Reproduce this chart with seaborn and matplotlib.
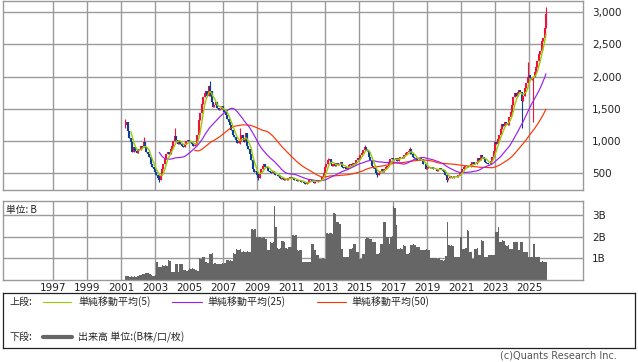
import numpy as np
import pandas as pd
import seaborn as sns
from matplotlib import pyplot as plt

# 月足の終値 (2001-04 .. 2026-01)
close_2001 = [1250, 1300, 1150, 1050, 980, 830, 900, 850, 820]
close_2002 = [880, 860, 930, 900, 990, 900, 830, 800, 750, 640, 600, 560]
close_2003 = [520, 480, 430, 400, 480, 560, 640, 720, 800, 830, 800, 870]
close_2004 = [930, 1000, 1080, 1010, 950, 1000, 960, 930, 900, 960, 1000, 1010]
close_2005 = [1000, 980, 950, 930, 940, 960, 1100, 1320, 1430, 1580, 1680, 1740]
close_2006 = [1780, 1700, 1850, 1780, 1600, 1530, 1560, 1600, 1520, 1480, 1500, 1540]
close_2007 = [1500, 1450, 1400, 1350, 1300, 1250, 1170, 1100, 1060, 1020, 970, 1000]
close_2008 = [1000, 1100, 1050, 980, 1120, 930, 880, 800, 700, 560, 520, 540]
close_2009 = [480, 430, 500, 560, 620, 650, 600, 580, 540, 520, 500, 540]
close_2010 = [500, 470, 480, 460, 430, 410, 420, 400, 410, 400, 420, 440]
close_2011 = [440, 430, 400, 390, 380, 390, 400, 370, 360, 350, 340, 350]
close_2012 = [360, 390, 400, 380, 350, 370, 360, 380, 390, 400, 440, 500]
close_2013 = [600, 650, 700, 720, 650, 620, 640, 610, 660, 630, 650, 670]
close_2014 = [600, 580, 590, 570, 600, 630, 640, 620, 660, 640, 700, 730]
close_2015 = [720, 790, 820, 860, 910, 880, 850, 760, 700, 620, 580, 560]
close_2016 = [510, 470, 510, 540, 560, 520, 570, 590, 620, 680, 720, 730]
close_2017 = [720, 700, 730, 690, 740, 760, 750, 730, 790, 820, 830, 840]
close_2018 = [870, 800, 760, 740, 720, 700, 710, 730, 720, 650, 640, 560]
close_2019 = [580, 590, 580, 600, 560, 570, 560, 530, 560, 580, 570, 540]
close_2020 = [520, 470, 400, 430, 450, 440, 430, 450, 460, 440, 480, 500]
close_2021 = [520, 560, 600, 620, 610, 600, 590, 640, 680, 650, 640, 670]
close_2022 = [740, 700, 780, 760, 720, 680, 660, 650, 640, 690, 760, 850]
close_2023 = [980, 960, 1030, 1100, 1180, 1260, 1240, 1300, 1280, 1250, 1380, 1450]
close_2024 = [1560, 1680, 1750, 1700, 1760, 1800, 1760, 1620, 1700, 1820, 1900, 2000]
close_2025 = [2020, 1980, 1950, 1990, 2080, 2150, 2250, 2350, 2400, 2550, 2600, 2750]
close_2026 = [2980]

# 目立つヒゲ (月: (安値, 高値))
wicks = {
    "2001-04": (1200, 1350), "2002-05": (900, 1060), "2003-04": (360, 480),
    "2004-03": (1000, 1210), "2006-04": (1700, 1940), "2008-01": (950, 1210),
    "2009-02": (390, 500), "2013-03": (640, 740), "2015-05": (850, 940),
    "2016-02": (440, 520), "2018-01": (800, 900), "2020-03": (360, 480),
    "2024-08": (1200, 1760), "2024-12": (1900, 2220), "2025-04": (1290, 2000),
    "2026-01": (2750, 3080),
}

# 出来高 (B)
vol_2001 = [0.18, 0.17, 0.18, 0.16, 0.17, 0.16, 0.17, 0.16, 0.18]
vol_2002 = [0.2, 0.22, 0.25, 0.27, 0.26, 0.3, 0.32, 0.3, 0.28, 0.22, 0.2, 0.2]
vol_2003 = [0.22, 0.83, 0.6, 0.58, 0.62, 0.67, 0.65, 0.7, 0.66, 0.9, 0.88, 0.36]
vol_2004 = [0.38, 0.35, 0.75, 0.72, 0.36, 0.75, 0.73, 0.76, 0.44, 0.46, 0.42, 0.45]
vol_2005 = [0.53, 0.5, 0.55, 0.52, 0.44, 0.46, 0.43, 1.0, 0.98, 1.06, 1.04, 0.83]
vol_2006 = [0.85, 0.8, 1.22, 1.2, 1.24, 0.75, 0.78, 0.74, 0.76, 0.72, 0.75, 0.77]
vol_2007 = [0.75, 0.78, 0.9, 0.92, 0.88, 0.9, 0.86, 1.23, 1.2, 1.42, 1.4, 1.38]
vol_2008 = [1.42, 1.3, 1.32, 1.28, 1.3, 1.34, 1.3, 1.27, 2.35, 2.3, 2.36, 2.0]
vol_2009 = [2.0, 1.97, 1.97, 1.95, 1.98, 1.97, 1.9, 1.37, 1.36, 1.74, 1.72, 1.75]
vol_2010 = [3.4, 2.46, 1.46, 1.44, 1.48, 1.79, 1.8, 1.77, 1.46, 1.45, 1.53, 1.52]
vol_2011 = [1.53, 2.07, 2.05, 2.07, 1.37, 1.35, 1.38, 1.36, 0.83, 0.82, 0.84, 0.83]
vol_2012 = [0.83, 0.85, 1.68, 1.66, 1.37, 1.36, 1.14, 1.15, 0.99, 0.98, 1.0, 0.99]
vol_2013 = [0.99, 2.15, 2.13, 2.15, 2.16, 2.12, 3.08, 3.05, 2.69, 2.65, 2.6, 1.45]
vol_2014 = [1.45, 1.06, 1.05, 1.07, 1.06, 1.45, 1.43, 1.46, 1.68, 1.66, 1.29, 1.28]
vol_2015 = [0.99, 0.98, 1.22, 1.21, 1.91, 2.0, 1.93, 1.9, 1.88, 1.76, 1.74, 1.77]
vol_2016 = [1.22, 1.2, 1.23, 1.68, 1.66, 2.69, 2.65, 2.0, 1.98, 1.68, 2.0, 2.02]
vol_2017 = [3.39, 3.3, 2.53, 1.45, 1.44, 1.46, 1.45, 1.6, 1.58, 1.22, 1.21, 1.23]
vol_2018 = [1.63, 1.62, 1.64, 1.6, 1.52, 1.5, 1.53, 1.37, 1.36, 1.38, 1.4, 1.41]
vol_2019 = [1.4, 1.38, 1.02, 1.03, 1.01, 1.02, 1.0, 0.99, 1.0, 0.9, 0.91, 0.89]
vol_2020 = [0.9, 1.1, 2.66, 1.6, 1.58, 1.62, 1.55, 1.06, 1.05, 1.07, 1.06, 2.0]
vol_2021 = [2.0, 1.45, 1.44, 1.46, 2.3, 2.28, 1.29, 1.28, 0.99, 1.45, 1.44, 1.46]
vol_2022 = [1.14, 1.13, 1.83, 1.82, 1.06, 1.05, 1.07, 1.14, 1.13, 1.15, 1.14, 1.13]
vol_2023 = [2.22, 2.2, 2.46, 1.76, 1.75, 1.83, 1.82, 1.6, 1.58, 1.61, 1.45, 1.44]
vol_2024 = [1.45, 1.76, 1.75, 1.77, 1.37, 1.36, 1.76, 1.75, 1.29, 1.28, 1.3, 1.06]
vol_2025 = [1.06, 1.05, 1.07, 1.68, 1.06, 1.05, 1.06, 1.04, 0.85, 0.86, 0.85, 0.85]
vol_2026 = [0.85]

years = [str(y) for y in range(1997, 2026, 2)]

closes = sum([close_2001, close_2002, close_2003, close_2004, close_2005, close_2006,
              close_2007, close_2008, close_2009, close_2010, close_2011, close_2012,
              close_2013, close_2014, close_2015, close_2016, close_2017, close_2018,
              close_2019, close_2020, close_2021, close_2022, close_2023, close_2024,
              close_2025, close_2026], [])
volumes = sum([vol_2001, vol_2002, vol_2003, vol_2004, vol_2005, vol_2006, vol_2007,
               vol_2008, vol_2009, vol_2010, vol_2011, vol_2012, vol_2013, vol_2014,
               vol_2015, vol_2016, vol_2017, vol_2018, vol_2019, vol_2020, vol_2021,
               vol_2022, vol_2023, vol_2024, vol_2025, vol_2026], [])

months = pd.period_range("2001-04", "2026-01", freq="M")
df = pd.DataFrame({"month": months.strftime("%Y-%m"), "close": closes, "volume": volumes})
df["x"] = months.year + (months.month - 1) / 12
df["open"] = df["close"].shift(1).fillna(df["close"].iloc[0])
df["lo"] = df[["open", "close"]].min(axis=1)
df["hi"] = df[["open", "close"]].max(axis=1)
for k, (lo, hi) in wicks.items():
    df.loc[df["month"] == k, ["lo", "hi"]] = (lo, hi)
df["ma5"] = df["close"].rolling(5).mean()
df["ma25"] = df["close"].rolling(25).mean()
df["ma50"] = df["close"].rolling(50).mean()

UP, DOWN = "#f0103c", "#0c3c9c"
GRID = "#9a9a9a"

sns.set_theme(style="white")
plt.rcParams["font.family"] = ["Noto Sans CJK JP", "DejaVu Sans"]
plt.rcParams["axes.unicode_minus"] = False

W, H = 638, 362
fig = plt.figure(figsize=(W / 100, H / 100), dpi=100)
ax1 = fig.add_axes([3 / W, 1 - 190 / H, 580 / W, 189 / H])
ax2 = fig.add_axes([3 / W, 1 - 280 / H, 580 / W, 79 / H])

xlim = (1994.06, 2028.18)
for ax in (ax1, ax2):
    ax.set_xlim(*xlim)
    ax.set_xticks([int(y) for y in years])
    ax.grid(True, color=GRID, linewidth=1.0)
    ax.set_axisbelow(True)
    for s in ax.spines.values():
        s.set_color(GRID)
        s.set_linewidth(1.0)
    ax.yaxis.tick_right()
    ax.tick_params(length=0, labelsize=7.5, pad=6.5, labelcolor="#222222")

# 上段: ローソク足 + 移動平均
colors = np.where(df["close"] >= df["open"], UP, DOWN)
ax1.vlines(df["x"], df["lo"], df["hi"], colors=colors, linewidth=0.8)
ax1.vlines(df["x"], df[["open", "close"]].min(axis=1), df[["open", "close"]].max(axis=1),
           colors=colors, linewidth=1.5)
sns.lineplot(data=df, x="x", y="ma50", ax=ax1, color="#ff3300", linewidth=0.85)
sns.lineplot(data=df, x="x", y="ma25", ax=ax1, color="#9b1ff0", linewidth=0.85)
sns.lineplot(data=df, x="x", y="ma5", ax=ax1, color="#99cc00", linewidth=1.0)
ax1.set_ylim(240, 3175)
ax1.set_yticks([500, 1000, 1500, 2000, 2500, 3000])
ax1.set_yticklabels(["500", "1,000", "1,500", "2,000", "2,500", "3,000"],
                    family="DejaVu Sans")
ax1.set_xticklabels([])
ax1.set_xlabel("")
ax1.set_ylabel("")

# 下段: 出来高
ax2.bar(df["x"], df["volume"], width=1 / 12, align="edge", color="#666666", linewidth=0)
ax2.set_ylim(0, 3.64)
ax2.set_yticks([1, 2, 3])
ax2.set_yticklabels(["1B", "2B", "3B"], family="DejaVu Sans")
ax2.set_xticklabels(years, family="DejaVu Sans")
ax2.tick_params(axis="x", pad=2)
ax2.text(0.006, 0.95, "単位: B", transform=ax2.transAxes, fontsize=7, va="top",
         color="#222222")

# 凡例
ax3 = fig.add_axes([3 / W, 1 - 348 / H, 632 / W, 55 / H])
ax3.set_xlim(3, 635)
ax3.set_ylim(348, 293)
ax3.set_xticks([])
ax3.set_yticks([])
for s in ax3.spines.values():
    s.set_color("#222222")
    s.set_linewidth(0.9)
ax3.set_facecolor("white")
fs = 7.2
ax3.text(9, 302, "上段:", fontsize=fs, va="center")
ax3.plot([43, 71], [302, 302], color="#99cc00", linewidth=0.8)
ax3.text(78, 302, "単純移動平均(5)", fontsize=fs, va="center")
ax3.plot([172, 202], [302, 302], color="#9b1ff0", linewidth=0.8)
ax3.text(207, 302, "単純移動平均(25)", fontsize=fs, va="center")
ax3.plot([317, 346], [302, 302], color="#ff3300", linewidth=0.8)
ax3.text(351, 302, "単純移動平均(50)", fontsize=fs, va="center")
ax3.text(9, 337, "下段:", fontsize=fs, va="center")
ax3.plot([43, 72], [337, 337], color="#666666", linewidth=3)
ax3.text(78, 337, "出来高 単位:(B株/口/枚)", fontsize=fs, va="center")

fig.text(617 / W, 1 - 356 / H, "(c)Quants Research Inc.", fontsize=7, ha="right",
         va="center", color="#555555", family="DejaVu Sans")

plt.savefig("out.png", dpi=100)
plt.close()
